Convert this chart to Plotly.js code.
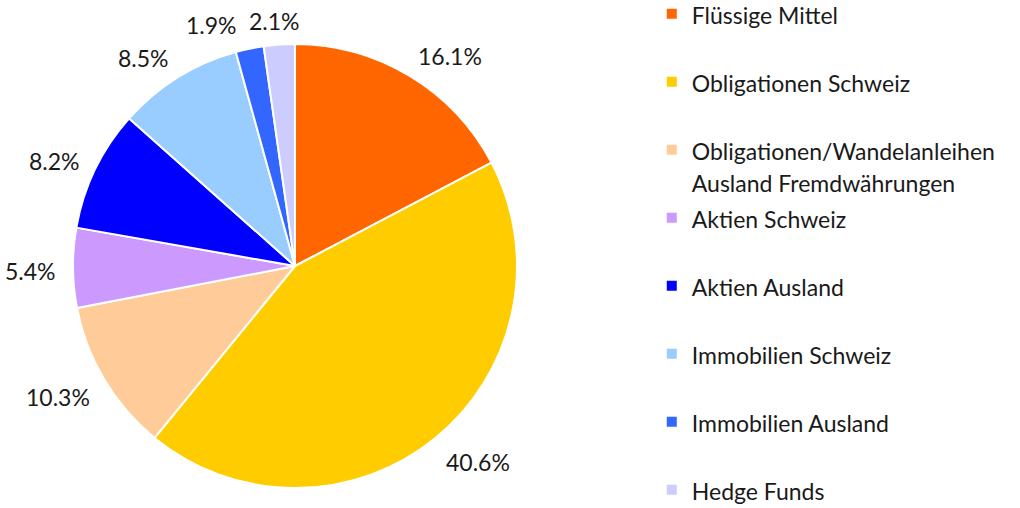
<!DOCTYPE html>
<html>
<head>
<meta charset="utf-8">
<script src="https://cdn.plot.ly/plotly-3.0.1.min.js"></script>
<style>html,body{margin:0;padding:0;background:#fff;}#chart{width:1020px;height:508px;}</style>
</head>
<body>
<div id="chart"></div>
<script>
var categories = ["Flüssige Mittel", "Obligationen Schweiz", "Obligationen/Wandelanleihen<br>Ausland Fremdwährungen", "Aktien Schweiz", "Aktien Ausland", "Immobilien Schweiz", "Immobilien Ausland", "Hedge Funds"];
var shares = [16.1, 40.6, 10.3, 5.4, 8.2, 8.5, 1.9, 2.1];
var colors = ["#FF6600", "#FFCC00", "#FFCC99", "#CC99FF", "#0000FF", "#99CCFF", "#3366FF", "#CCCCFF"];

var FONT = "Lato, 'Open Sans', sans-serif";
var TXT = "#1a1a1a";
var labelSize = 23;

var legendLabels = categories.map(function (c, i) {
  var parts = c.split("<br>").map(function (p) { return '<span style="font-size:23px">' + p + '</span>'; });
  if (parts.length > 1 || i === categories.length - 1) return parts.join("<br>");
  return parts[0] + "<br> ";
});
var textLabels = shares.map(function (v) { return v.toFixed(1) + "%"; });

var W = 1020, H = 508, cx = 295, cy = 266, r = 222, gap = 17, pad = 12, dropY = 3;

// outside-end labels placed along each slice's mid angle (computed from the data)
var ctx = document.createElement("canvas").getContext("2d");
ctx.font = labelSize + "px Lato";
var total = shares.reduce(function (a, b) { return a + b; }, 0);
var cum = 0;
var boxes = shares.map(function (v, i) {
  var mid = (cum + v / 2) / total * 2 * Math.PI;
  cum += v;
  var ux = Math.sin(mid), uy = -Math.cos(mid);
  var w = ctx.measureText(textLabels[i]).width, h = labelSize * 0.85;
  var fx = (ux < 0 ? -1 : 1) * Math.min(1, 2 * Math.abs(ux));
  return {
    x: cx + (r + gap) * ux + fx * w / 2,
    y: cy + (r + gap) * uy + uy * h / 2 + dropY,
    w: w, h: h, ux: ux
  };
});
// resolve overlaps between neighbouring small slices
for (var i = 0; i < boxes.length; i++) {
  var a = boxes[i], b = boxes[(i + 1) % boxes.length];
  var overlapX = (a.w + b.w) / 2 + pad - Math.abs(a.x - b.x);
  var overlapY = (a.h + b.h) / 2 - Math.abs(a.y - b.y);
  if (overlapX > 0 && overlapY > 0) {
    if (a.ux < 0) { a.x -= overlapX; } else { b.x += overlapX; }
  }
}
var annotations = boxes.map(function (bx, i) {
  return {
    xref: "paper", yref: "paper",
    x: bx.x / W, y: (H - bx.y) / H,
    xanchor: "center", yanchor: "middle",
    text: textLabels[i], showarrow: false,
    font: { family: FONT, size: labelSize, color: TXT }
  };
});

var trace = {
  type: "pie",
  labels: legendLabels,
  values: shares,
  text: textLabels,
  textinfo: "none",
  sort: false,
  direction: "clockwise",
  rotation: 0,
  marker: { colors: colors, line: { color: "#ffffff", width: 2 } },
  domain: { x: [(cx - r) / W, (cx + r) / W], y: [(H - cy - r) / H, (H - cy + r) / H] },
  hoverinfo: "label+text"
};

var layout = {
  width: W, height: H,
  margin: { l: 0, r: 0, t: 0, b: 0, autoexpand: false },
  paper_bgcolor: "#ffffff",
  showlegend: true,
  legend: {
    x: 0.639, y: 1.0177, xanchor: "left", yanchor: "top",
    valign: "top",
    maxheight: 600,
    font: { family: FONT, size: 25, color: TXT },
    traceorder: "normal"
  },
  annotations: annotations,
  font: { family: FONT }
};

Plotly.newPlot("chart", [trace], layout, { displayModeBar: false, staticPlot: true });
</script>
</body>
</html>
